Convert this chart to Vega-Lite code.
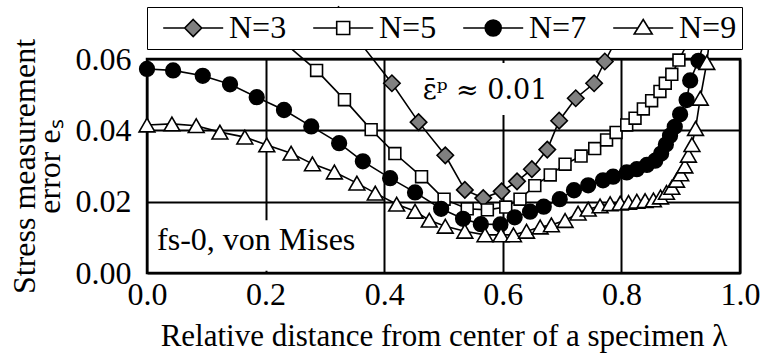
{
  "$schema": "https://vega.github.io/schema/vega-lite/v6.json",
  "autosize": "none",
  "width": 593,
  "height": 214,
  "padding": {"left": 147, "top": 59, "right": 22, "bottom": 90},
  "background": "white",
  "config": {
    "view": {"stroke": "black", "strokeWidth": 2.5},
    "font": "Liberation Serif",
    "axis": {
      "labelFont": "Liberation Serif", "labelFontSize": 32, "labelColor": "black",
      "titleFont": "Liberation Serif", "titleFontSize": 31, "titleFontWeight": "normal", "titleColor": "black",
      "domain": false, "ticks": false, "grid": true, "gridColor": "black", "gridWidth": 2, "gridOpacity": 1,
      "labelOverlap": false, "labelFlush": false
    }
  },
  "data": {
    "values": [
      {"N": "N=3", "x": 0.323, "y": 0.0723},
      {"N": "N=3", "x": 0.413, "y": 0.0532},
      {"N": "N=3", "x": 0.458, "y": 0.0423},
      {"N": "N=3", "x": 0.503, "y": 0.0330},
      {"N": "N=3", "x": 0.536, "y": 0.0233},
      {"N": "N=3", "x": 0.567, "y": 0.0210},
      {"N": "N=3", "x": 0.598, "y": 0.0229},
      {"N": "N=3", "x": 0.624, "y": 0.0257},
      {"N": "N=3", "x": 0.649, "y": 0.0291},
      {"N": "N=3", "x": 0.675, "y": 0.0346},
      {"N": "N=3", "x": 0.695, "y": 0.0427},
      {"N": "N=3", "x": 0.723, "y": 0.0490},
      {"N": "N=3", "x": 0.754, "y": 0.0532},
      {"N": "N=3", "x": 0.772, "y": 0.0593},
      {"N": "N=3", "x": 0.795, "y": 0.0665},

      {"N": "N=5", "x": 0.220, "y": 0.0662},
      {"N": "N=5", "x": 0.286, "y": 0.0568},
      {"N": "N=5", "x": 0.333, "y": 0.0486},
      {"N": "N=5", "x": 0.378, "y": 0.0402},
      {"N": "N=5", "x": 0.418, "y": 0.0335},
      {"N": "N=5", "x": 0.463, "y": 0.0270},
      {"N": "N=5", "x": 0.501, "y": 0.0207},
      {"N": "N=5", "x": 0.540, "y": 0.0180},
      {"N": "N=5", "x": 0.574, "y": 0.0177},
      {"N": "N=5", "x": 0.605, "y": 0.0185},
      {"N": "N=5", "x": 0.629, "y": 0.0207},
      {"N": "N=5", "x": 0.654, "y": 0.0245},
      {"N": "N=5", "x": 0.680, "y": 0.0275},
      {"N": "N=5", "x": 0.705, "y": 0.0305},
      {"N": "N=5", "x": 0.732, "y": 0.0328},
      {"N": "N=5", "x": 0.755, "y": 0.0349},
      {"N": "N=5", "x": 0.775, "y": 0.0373},
      {"N": "N=5", "x": 0.791, "y": 0.0394},
      {"N": "N=5", "x": 0.809, "y": 0.0415},
      {"N": "N=5", "x": 0.823, "y": 0.0434},
      {"N": "N=5", "x": 0.837, "y": 0.0460},
      {"N": "N=5", "x": 0.851, "y": 0.0483},
      {"N": "N=5", "x": 0.865, "y": 0.0509},
      {"N": "N=5", "x": 0.874, "y": 0.0532},
      {"N": "N=5", "x": 0.885, "y": 0.0557},
      {"N": "N=5", "x": 0.897, "y": 0.0597},
      {"N": "N=5", "x": 0.925, "y": 0.0690},

      {"N": "N=7", "x": 0.000, "y": 0.0572},
      {"N": "N=7", "x": 0.044, "y": 0.0568},
      {"N": "N=7", "x": 0.094, "y": 0.0553},
      {"N": "N=7", "x": 0.140, "y": 0.0529},
      {"N": "N=7", "x": 0.185, "y": 0.0493},
      {"N": "N=7", "x": 0.231, "y": 0.0457},
      {"N": "N=7", "x": 0.277, "y": 0.0411},
      {"N": "N=7", "x": 0.324, "y": 0.0364},
      {"N": "N=7", "x": 0.364, "y": 0.0313},
      {"N": "N=7", "x": 0.410, "y": 0.0266},
      {"N": "N=7", "x": 0.452, "y": 0.0226},
      {"N": "N=7", "x": 0.496, "y": 0.0180},
      {"N": "N=7", "x": 0.533, "y": 0.0152},
      {"N": "N=7", "x": 0.563, "y": 0.0137},
      {"N": "N=7", "x": 0.596, "y": 0.0136},
      {"N": "N=7", "x": 0.620, "y": 0.0156},
      {"N": "N=7", "x": 0.646, "y": 0.0172},
      {"N": "N=7", "x": 0.669, "y": 0.0186},
      {"N": "N=7", "x": 0.696, "y": 0.0207},
      {"N": "N=7", "x": 0.720, "y": 0.0232},
      {"N": "N=7", "x": 0.744, "y": 0.0246},
      {"N": "N=7", "x": 0.769, "y": 0.0260},
      {"N": "N=7", "x": 0.786, "y": 0.0270},
      {"N": "N=7", "x": 0.809, "y": 0.0282},
      {"N": "N=7", "x": 0.826, "y": 0.0291},
      {"N": "N=7", "x": 0.843, "y": 0.0303},
      {"N": "N=7", "x": 0.857, "y": 0.0315},
      {"N": "N=7", "x": 0.867, "y": 0.0335},
      {"N": "N=7", "x": 0.875, "y": 0.0360},
      {"N": "N=7", "x": 0.882, "y": 0.0385},
      {"N": "N=7", "x": 0.890, "y": 0.0410},
      {"N": "N=7", "x": 0.899, "y": 0.0445},
      {"N": "N=7", "x": 0.910, "y": 0.0485},
      {"N": "N=7", "x": 0.916, "y": 0.0540},
      {"N": "N=7", "x": 0.930, "y": 0.0595},
      {"N": "N=7", "x": 0.945, "y": 0.0680},

      {"N": "N=9", "x": 0.000, "y": 0.0415},
      {"N": "N=9", "x": 0.042, "y": 0.0418},
      {"N": "N=9", "x": 0.083, "y": 0.0413},
      {"N": "N=9", "x": 0.123, "y": 0.0395},
      {"N": "N=9", "x": 0.165, "y": 0.0381},
      {"N": "N=9", "x": 0.202, "y": 0.0359},
      {"N": "N=9", "x": 0.243, "y": 0.0336},
      {"N": "N=9", "x": 0.279, "y": 0.0306},
      {"N": "N=9", "x": 0.316, "y": 0.0283},
      {"N": "N=9", "x": 0.354, "y": 0.0252},
      {"N": "N=9", "x": 0.385, "y": 0.0224},
      {"N": "N=9", "x": 0.421, "y": 0.0193},
      {"N": "N=9", "x": 0.452, "y": 0.0173},
      {"N": "N=9", "x": 0.476, "y": 0.0148},
      {"N": "N=9", "x": 0.503, "y": 0.0131},
      {"N": "N=9", "x": 0.536, "y": 0.0117},
      {"N": "N=9", "x": 0.570, "y": 0.0107},
      {"N": "N=9", "x": 0.597, "y": 0.0107},
      {"N": "N=9", "x": 0.618, "y": 0.0107},
      {"N": "N=9", "x": 0.640, "y": 0.0117},
      {"N": "N=9", "x": 0.663, "y": 0.0129},
      {"N": "N=9", "x": 0.682, "y": 0.0135},
      {"N": "N=9", "x": 0.705, "y": 0.0147},
      {"N": "N=9", "x": 0.727, "y": 0.0168},
      {"N": "N=9", "x": 0.744, "y": 0.0179},
      {"N": "N=9", "x": 0.764, "y": 0.0188},
      {"N": "N=9", "x": 0.781, "y": 0.0194},
      {"N": "N=9", "x": 0.798, "y": 0.0196},
      {"N": "N=9", "x": 0.812, "y": 0.0198},
      {"N": "N=9", "x": 0.826, "y": 0.0201},
      {"N": "N=9", "x": 0.840, "y": 0.0203},
      {"N": "N=9", "x": 0.854, "y": 0.0205},
      {"N": "N=9", "x": 0.866, "y": 0.0213},
      {"N": "N=9", "x": 0.876, "y": 0.0226},
      {"N": "N=9", "x": 0.885, "y": 0.0240},
      {"N": "N=9", "x": 0.893, "y": 0.0260},
      {"N": "N=9", "x": 0.900, "y": 0.0278},
      {"N": "N=9", "x": 0.907, "y": 0.0300},
      {"N": "N=9", "x": 0.913, "y": 0.0330},
      {"N": "N=9", "x": 0.919, "y": 0.0360},
      {"N": "N=9", "x": 0.925, "y": 0.0405},
      {"N": "N=9", "x": 0.933, "y": 0.0490},
      {"N": "N=9", "x": 0.944, "y": 0.0590},
      {"N": "N=9", "x": 0.952, "y": 0.0700}
    ]
  },
  "resolve": {"scale": {"shape": "independent", "fill": "independent", "size": "independent"}},
  "layer": [
    {
      "mark": {"type": "line", "stroke": "black", "strokeWidth": 1.6, "clip": false},
      "encoding": {
        "x": {
          "field": "x", "type": "quantitative",
          "scale": {"domain": [0, 1], "nice": false, "zero": false},
          "axis": {"values": [0, 0.2, 0.4, 0.6, 0.8, 1], "format": ".1f", "labelPadding": 6, "grid": true,
                   "title": "Relative distance from center of a specimen λ", "titlePadding": 11}
        },
        "y": {
          "field": "y", "type": "quantitative",
          "scale": {"domain": [0, 0.06], "nice": false},
          "axis": {"values": [0, 0.02, 0.04, 0.06], "format": ".2f", "labelPadding": 16, "grid": true,
                   "title": ["Stress measurement", "error eₛ"], "titleFontSize": 32, "titleLineHeight": 25, "titlePadding": 9}
        },
        "detail": {"field": "N"}
      }
    },
    {
      "transform": [{"aggregate": [{"op": "count", "as": "n"}]}],
      "mark": {"type": "rect", "fill": "white", "strokeWidth": 0},
      "encoding": {
        "x": {"datum": 0.004, "type": "quantitative"},
        "x2": {"datum": 0.37},
        "y": {"datum": 0.0006, "type": "quantitative"},
        "y2": {"datum": 0.0148}
      }
    },
    {
      "transform": [{"aggregate": [{"op": "count", "as": "n"}]}],
      "mark": {"type": "rect", "fill": "white", "strokeWidth": 0},
      "encoding": {
        "x": {"datum": 0.465, "type": "quantitative"},
        "x2": {"datum": 0.685},
        "y": {"datum": 0.0443, "type": "quantitative"},
        "y2": {"datum": 0.0589}
      }
    },
    {
      "mark": {"type": "point", "filled": true, "stroke": "black", "strokeWidth": 1.6, "opacity": 1, "clip": false},
      "encoding": {
        "x": {"field": "x", "type": "quantitative"},
        "y": {"field": "y", "type": "quantitative"},
        "shape": {"field": "N", "type": "nominal", "legend": null,
                  "scale": {"domain": ["N=3", "N=5", "N=7", "N=9"], "range": ["diamond", "square", "circle", "triangle-up"]}},
        "fill": {"field": "N", "type": "nominal", "legend": null,
                 "scale": {"domain": ["N=3", "N=5", "N=7", "N=9"], "range": ["#808080", "white", "black", "white"]}},
        "size": {"field": "N", "type": "nominal", "legend": null,
                 "scale": {"type": "ordinal", "domain": ["N=3", "N=5", "N=7", "N=9"], "range": [270, 140, 215, 250]}}
      }
    },
    {
      "transform": [{"aggregate": [{"op": "count", "as": "n"}]}],
      "mark": {"type": "text", "text": "fs-0, von Mises", "font": "Liberation Serif", "fontSize": 32, "align": "left", "baseline": "middle", "fill": "black"},
      "encoding": {
        "x": {"datum": 0.017, "type": "quantitative"},
        "y": {"datum": 0.0093, "type": "quantitative"}
      }
    },
    {
      "transform": [{"aggregate": [{"op": "count", "as": "n"}]}],
      "mark": {"type": "text", "text": "ε̄ᵖ ≈ 0.01", "font": "DejaVu Serif", "fontSize": 27, "align": "center", "baseline": "middle", "fill": "black"},
      "encoding": {
        "x": {"datum": 0.57, "type": "quantitative"},
        "y": {"datum": 0.0509, "type": "quantitative"}
      }
    },
    {
      "transform": [{"filter": "false"}],
      "mark": {"type": "point", "filled": true, "stroke": "black", "strokeWidth": 1.6, "size": 400, "opacity": 1},
      "encoding": {
        "x": {"field": "x", "type": "quantitative"},
        "y": {"field": "y", "type": "quantitative"},
        "shape": {"field": "N", "type": "nominal",
                  "scale": {"domain": ["N=3", "N=5", "N=7", "N=9"],
                            "range": [
                              "M-0.48,0H1.67M3.37,0H5.52M2.52,-0.85L3.37,0L2.52,0.85L1.67,0Z",
                              "M-0.48,0H1.87M3.17,0H5.52M1.87,-0.65H3.17V0.65H1.87Z",
                              "M-0.48,0H1.72M3.32,0H5.52M3.32,0A0.8,0.8 0 1,1 1.72,0A0.8,0.8 0 1,1 3.32,0Z",
                              "M-0.48,0H1.99M3.05,0H5.52M2.52,-0.85L3.42,0.6L1.62,0.6Z"
                            ]},
                  "legend": {"orient": "none", "legendX": 0, "legendY": -52, "direction": "horizontal", "columns": 4,
                             "title": null, "symbolSize": 400, "symbolStrokeWidth": 1.6,
                             "labelFont": "Liberation Serif", "labelFontSize": 32, "labelColor": "black", "labelOffset": 45,
                             "columnPadding": 15, "strokeColor": "black", "fillColor": "white", "padding": 5, "zindex": 1}},
        "fill": {"field": "N", "type": "nominal",
                 "scale": {"domain": ["N=3", "N=5", "N=7", "N=9"], "range": ["#808080", "white", "black", "white"]},
                 "legend": {"orient": "none", "legendX": 0, "legendY": -52, "direction": "horizontal", "columns": 4,
                             "title": null, "symbolSize": 400, "symbolStrokeWidth": 1.6,
                             "labelFont": "Liberation Serif", "labelFontSize": 32, "labelColor": "black", "labelOffset": 45,
                             "columnPadding": 15, "strokeColor": "black", "fillColor": "white", "padding": 5, "zindex": 1}}
      }
    }
  ]
}
